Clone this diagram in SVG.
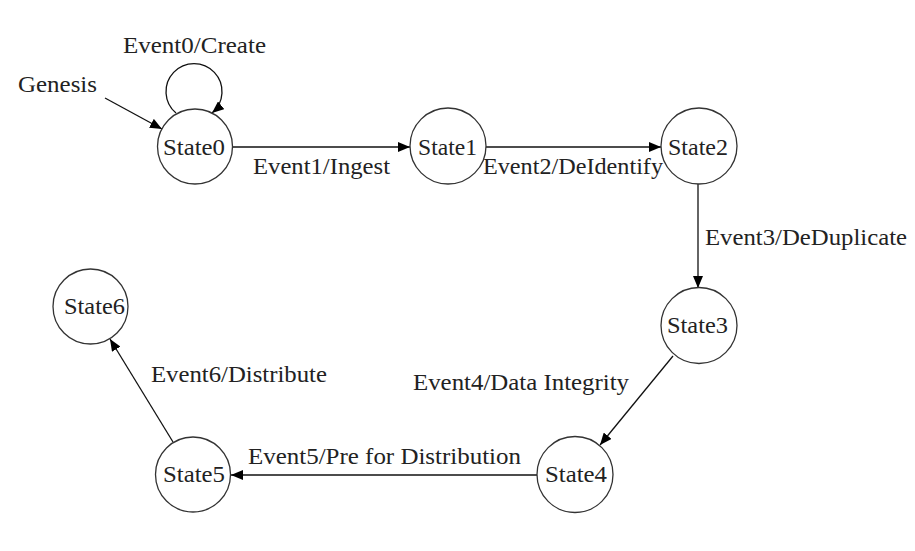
<svg xmlns="http://www.w3.org/2000/svg" width="915" height="551" viewBox="0 0 915 551">
<defs>
<marker id="arr" viewBox="0 0 12 10" refX="12" refY="5" markerWidth="12" markerHeight="10" markerUnits="userSpaceOnUse" orient="auto">
<path d="M0,0 L12,5 L0,10 Z" fill="#000"/>
</marker>
</defs>
<style>
.st circle{fill:#fff;stroke:#333;stroke-width:1.3}
text{font-family:"Liberation Serif","Times New Roman",serif;font-size:23.5px;fill:#222}
.edge{fill:none;stroke:#111;stroke-width:1.3;marker-end:url(#arr)}
</style>
<rect width="915" height="551" fill="#fff"/>
<g id="connectors">
<path class="edge" d="M105,98 L162,129"/>
<path class="edge" d="M176,113 A28,28 0 1 1 212,113"/>
<path class="edge" d="M233,147 L410,147"/>
<path class="edge" d="M486,147 L661,147"/>
<path class="edge" d="M698,184 L698,288"/>
<path class="edge" d="M673,356 L600,445"/>
<path class="edge" d="M537,475 L231,475"/>
<path class="edge" d="M173,442 L110,339"/>
</g>
<g id="labels">
<text x="18" y="92" textLength="79" lengthAdjust="spacingAndGlyphs">Genesis</text>
<text x="123" y="53" textLength="143" lengthAdjust="spacingAndGlyphs">Event0/Create</text>
<text x="253" y="174" textLength="137" lengthAdjust="spacingAndGlyphs">Event1/Ingest</text>
<text x="483" y="174" textLength="180" lengthAdjust="spacingAndGlyphs">Event2/DeIdentify</text>
<text x="705" y="245" textLength="202" lengthAdjust="spacingAndGlyphs">Event3/DeDuplicate</text>
<text x="413" y="390" textLength="216" lengthAdjust="spacingAndGlyphs">Event4/Data Integrity</text>
<text x="248" y="464" textLength="273" lengthAdjust="spacingAndGlyphs">Event5/Pre for Distribution</text>
<text x="151" y="382" textLength="176" lengthAdjust="spacingAndGlyphs">Event6/Distribute</text>
</g>
<g id="State0" class="st"><circle cx="195" cy="146.5" r="37.5"/><text x="163" y="155" textLength="62" lengthAdjust="spacingAndGlyphs">State0</text></g>
<g id="State1" class="st"><circle cx="448" cy="146" r="38"/><text x="418" y="155" textLength="59" lengthAdjust="spacingAndGlyphs">State1</text></g>
<g id="State2" class="st"><circle cx="699" cy="146" r="38"/><text x="668" y="155" textLength="60" lengthAdjust="spacingAndGlyphs">State2</text></g>
<g id="State3" class="st"><circle cx="699" cy="325.5" r="38"/><text x="667" y="333" textLength="61" lengthAdjust="spacingAndGlyphs">State3</text></g>
<g id="State4" class="st"><circle cx="575" cy="474.5" r="38"/><text x="545" y="482" textLength="62" lengthAdjust="spacingAndGlyphs">State4</text></g>
<g id="State5" class="st"><circle cx="193" cy="474.5" r="37.5"/><text x="163" y="482" textLength="62" lengthAdjust="spacingAndGlyphs">State5</text></g>
<g id="State6" class="st"><circle cx="90.5" cy="306.5" r="37.5"/><text x="64" y="314" textLength="61" lengthAdjust="spacingAndGlyphs">State6</text></g>
</svg>
